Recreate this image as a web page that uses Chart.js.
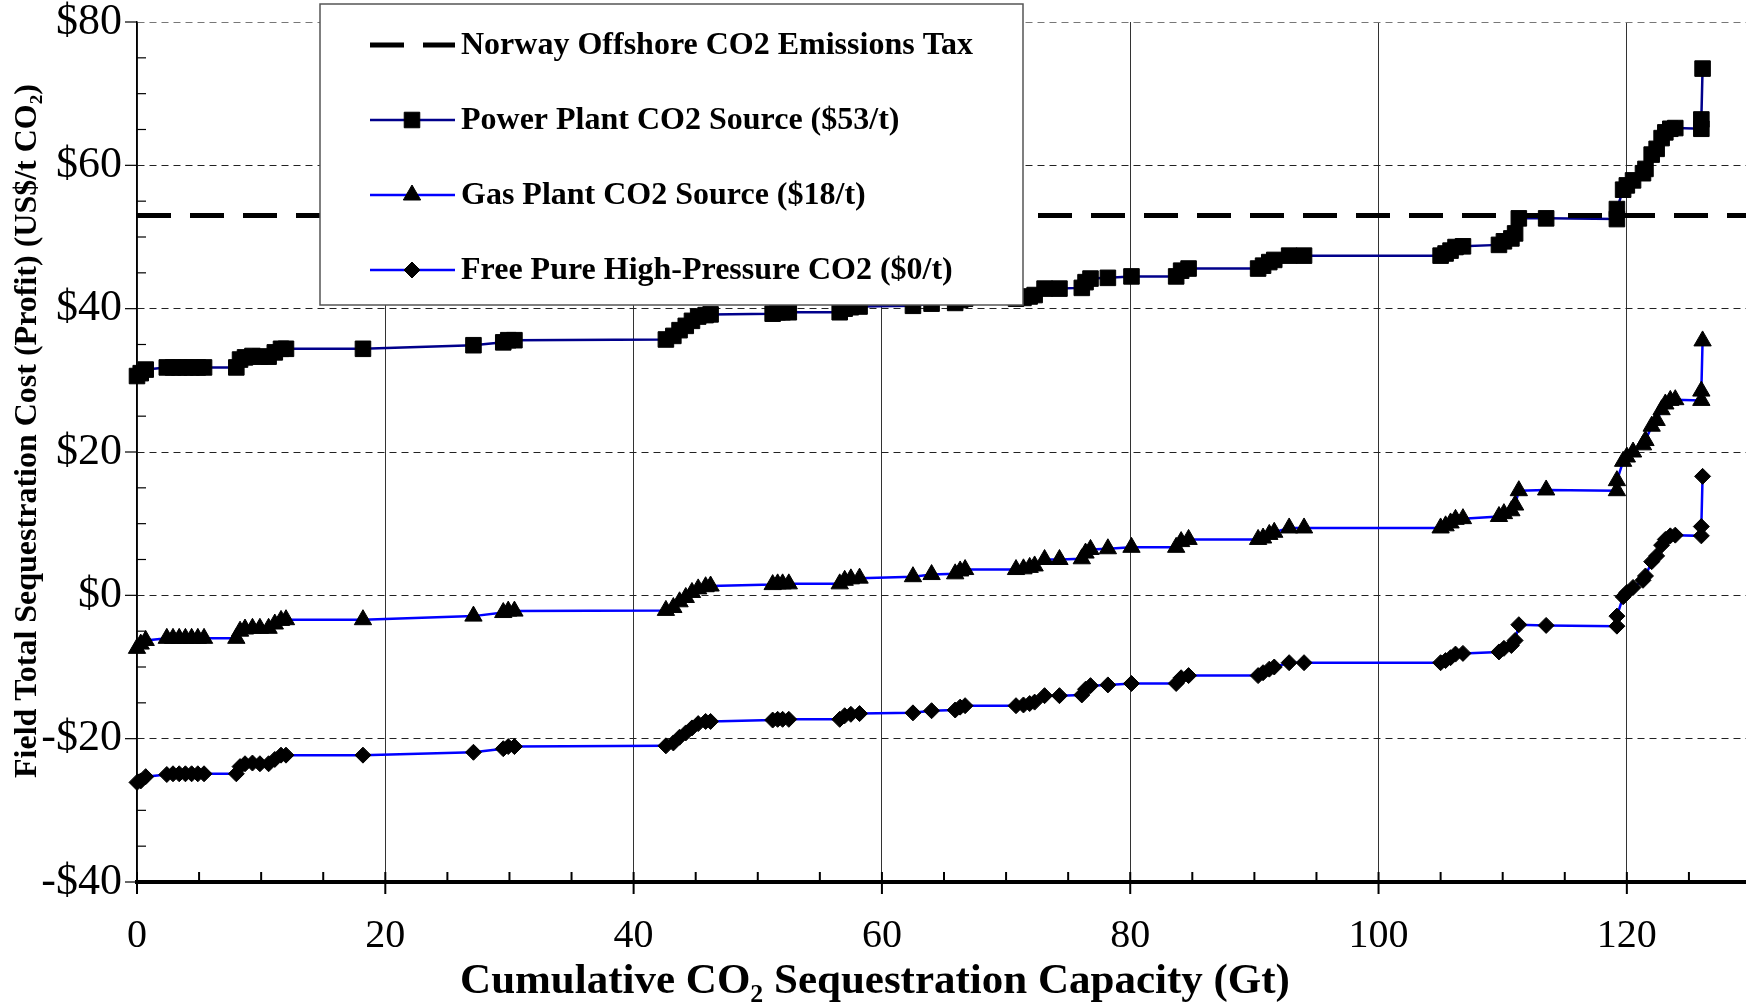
<!DOCTYPE html>
<html lang="en">
<head>
  <meta charset="UTF-8" />
  <title>Field Total Sequestration Cost vs Cumulative CO2 Capacity</title>
  <script src="https://cdn.jsdelivr.net/npm/chart.js"></script>
  <style>
    html, body { margin: 0; padding: 0; background: #fff; overflow: hidden; }
    canvas { display: block; }
  </style>
</head>
<body>
  <canvas id="chart" width="1751" height="1008"></canvas>

  <script>
    // cumulative capacity (Gt) of the fields, in merit order
    const capacity = [0.0, 0.3, 0.7, 2.4, 2.9, 3.4, 3.9, 4.4, 4.9, 5.4, 8.0, 8.3, 8.7, 9.3, 9.9, 10.6, 11.1, 11.6, 12.0, 18.2,
      27.1, 29.5, 29.9, 30.4, 42.6, 43.2, 43.7, 44.2, 44.7, 45.2, 45.8, 46.2, 51.2, 51.6, 52.0, 52.5, 56.6, 57.0, 57.5, 58.2,
      62.5, 64.0, 65.9, 66.3, 66.7, 70.8, 71.4, 71.9, 72.3, 73.1, 74.3, 76.1, 76.4, 76.8, 78.2, 80.1, 83.7, 84.1, 84.7, 90.3,
      90.7, 91.2, 91.6, 92.8, 94.0, 105.0, 105.4, 105.8, 106.2, 106.8, 109.7, 110.1, 110.7, 111.0, 111.3, 113.5, 119.2, 119.2, 119.7, 120.0,
      120.5, 121.3, 121.5, 122.0, 122.4, 122.8, 123.1, 123.5, 123.9, 126.0, 126.0, 126.1];

    // US$/t CO2
    const powerPlant = [30.6, 31.0, 31.5, 31.8, 31.8, 31.8, 31.8, 31.8, 31.8, 31.8, 31.8, 32.9, 33.2, 33.4, 33.3, 33.3, 33.9, 34.4, 34.4, 34.4,
      34.9, 35.3, 35.6, 35.6, 35.7, 36.2, 37.0, 37.6, 38.3, 38.9, 39.1, 39.2, 39.3, 39.5, 39.5, 39.5, 39.5, 40.0, 40.2, 40.3,
      40.4, 40.7, 40.8, 41.2, 41.4, 41.4, 41.5, 41.7, 41.9, 42.8, 42.8, 42.9, 43.7, 44.2, 44.3, 44.5, 44.5, 45.3, 45.6, 45.6,
      46.0, 46.5, 46.8, 47.4, 47.4, 47.4, 47.7, 48.1, 48.6, 48.7, 48.9, 49.4, 49.8, 50.5, 52.6, 52.6, 52.5, 53.9, 56.6, 57.2,
      57.9, 58.9, 59.5, 61.5, 62.3, 63.8, 64.6, 65.1, 65.2, 65.1, 66.4, 73.5];

    const gasPlant = [-7.4, -6.8, -6.3, -6.0, -6.0, -6.0, -6.0, -6.0, -6.0, -6.0, -6.0, -5.0, -4.7, -4.6, -4.6, -4.6, -4.0, -3.5, -3.4, -3.4,
      -2.9, -2.4, -2.2, -2.2, -2.1, -1.7, -0.9, -0.3, 0.4, 0.9, 1.2, 1.3, 1.5, 1.6, 1.6, 1.6, 1.6, 2.1, 2.3, 2.4,
      2.6, 2.9, 3.0, 3.4, 3.6, 3.6, 3.7, 3.9, 4.1, 5.0, 5.0, 5.1, 5.9, 6.4, 6.5, 6.7, 6.7, 7.5, 7.8, 7.8,
      8.0, 8.5, 8.8, 9.4, 9.4, 9.4, 9.7, 10.1, 10.6, 10.7, 11.0, 11.4, 11.8, 12.6, 14.6, 14.7, 14.6, 16.0, 18.7, 19.3,
      20.0, 21.0, 21.6, 23.6, 24.4, 25.9, 26.7, 27.2, 27.3, 27.2, 28.5, 35.5];

    const freeCO2 = [-26.1, -25.9, -25.3, -25.0, -24.9, -24.9, -24.9, -24.9, -24.9, -24.9, -24.9, -23.9, -23.5, -23.4, -23.5, -23.5, -22.9, -22.3, -22.3, -22.3,
      -21.9, -21.4, -21.1, -21.1, -21.0, -20.6, -19.8, -19.2, -18.5, -17.9, -17.6, -17.6, -17.4, -17.3, -17.3, -17.3, -17.3, -16.8, -16.6, -16.5,
      -16.4, -16.1, -16.0, -15.6, -15.4, -15.4, -15.3, -15.1, -14.9, -14.0, -14.0, -13.9, -13.1, -12.6, -12.5, -12.3, -12.3, -11.5, -11.2, -11.2,
      -10.8, -10.3, -10.0, -9.4, -9.4, -9.4, -9.1, -8.7, -8.2, -8.1, -7.9, -7.4, -7.0, -6.3, -4.1, -4.2, -4.3, -2.9, -0.2, 0.4,
      1.1, 2.1, 2.7, 4.7, 5.5, 7.0, 7.8, 8.3, 8.4, 8.3, 9.6, 16.6];

    const taxLevel = 53;
    const xRange = [0, 130];
    const yRange = [-40, 80];

    const seriesLabels = [
      'Norway Offshore CO2 Emissions Tax',
      'Power Plant CO2 Source ($53/t)',
      'Gas Plant CO2 Source ($18/t)',
      'Free Pure High-Pressure CO2 ($0/t)'
    ];
    const xTitle = 'Cumulative CO\u2082 Sequestration Capacity (Gt)';
    const yTitle = 'Field Total Sequestration Cost (Profit) (US$/t CO\u2082)';

    const SERIF = '"Liberation Serif", "Times New Roman", serif';
    const pts = arr => capacity.map((x, i) => ({ x, y: arr[i] }));

    // minor ticks, axis titles and the boxed legend
    const decorations = {
      id: 'decorations',
      afterDraw(chart) {
        const { ctx, chartArea: area, scales: { x, y } } = chart;
        ctx.save();
        ctx.strokeStyle = '#000';

        // x ticks: major cross the axis, minor point inward
        ctx.lineWidth = 2;
        for (let v = xRange[0]; v < xRange[1]; v += 5) {
          const px = x.getPixelForValue(v);
          ctx.beginPath();
          ctx.moveTo(px, area.bottom - 10);
          ctx.lineTo(px, area.bottom + (v % 20 === 0 ? 12 : 0));
          ctx.stroke();
        }
        // y ticks: major outward, minor inward
        ctx.lineWidth = 1.2;
        for (let v = yRange[0]; v <= yRange[1]; v += 5) {
          const py = y.getPixelForValue(v);
          ctx.beginPath();
          if (v % 20 === 0) { ctx.moveTo(area.left - 12, py); ctx.lineTo(area.left, py); }
          else { ctx.moveTo(area.left, py); ctx.lineTo(area.left + 9, py); }
          ctx.stroke();
        }

        // axis titles
        ctx.fillStyle = '#000';
        ctx.textAlign = 'center';
        ctx.textBaseline = 'middle';
        ctx.font = 'bold 43px ' + SERIF;
        ctx.fillText(xTitle, 875, 982);
        ctx.save();
        ctx.translate(28, 431);
        ctx.rotate(-Math.PI / 2);
        ctx.font = 'bold 32px ' + SERIF;
        ctx.fillText(yTitle, 0, 0);
        ctx.restore();

        // legend box
        const box = { left: 320, top: 4, width: 703, height: 301 };
        ctx.fillStyle = '#fff';
        ctx.fillRect(box.left, box.top, box.width, box.height);
        ctx.strokeStyle = '#555';
        ctx.lineWidth = 1.5;
        ctx.strokeRect(box.left, box.top, box.width, box.height);

        chart.data.datasets.forEach((ds, i) => {
          const ly = 45 + i * 75;
          ctx.strokeStyle = ds.borderColor;
          ctx.lineWidth = ds.borderWidth;
          ctx.setLineDash(ds.borderDash || []);
          ctx.beginPath();
          ctx.moveTo(370, ly);
          ctx.lineTo(455, ly);
          ctx.stroke();
          ctx.setLineDash([]);
          if (ds.pointRadius > 0) {
            ctx.fillStyle = '#000';
            ctx.strokeStyle = '#000';
            ctx.lineWidth = 1;
            Chart.helpers.drawPoint(ctx, { pointStyle: ds.pointStyle, radius: ds.pointRadius, borderWidth: 1, rotation: 0 }, 412, ly);
          }
          ctx.fillStyle = '#000';
          ctx.textAlign = 'left';
          ctx.textBaseline = 'middle';
          ctx.font = 'bold 32px ' + SERIF;
          ctx.fillText(ds.label, 461, ly + 1);
        });
        ctx.restore();
      }
    };

    const markerStyle = (style, r) => ({
      pointStyle: style,
      pointRadius: r,
      pointBackgroundColor: '#000',
      pointBorderColor: '#000',
      pointBorderWidth: 1,
      clip: false
    });

    new Chart(document.getElementById('chart'), {
      type: 'line',
      data: {
        datasets: [
          {
            label: seriesLabels[0],
            data: [{ x: xRange[0], y: taxLevel }, { x: xRange[1], y: taxLevel }],
            borderColor: '#000',
            borderWidth: 5,
            borderDash: [34, 19],
            pointRadius: 0,
            clip: false
          },
          {
            label: seriesLabels[1],
            data: pts(powerPlant),
            borderColor: '#00008b',
            borderWidth: 2.5,
            ...markerStyle('rect', 11)
          },
          {
            label: seriesLabels[2],
            data: pts(gasPlant),
            borderColor: '#0000ff',
            borderWidth: 2.5,
            ...markerStyle('triangle', 10)
          },
          {
            label: seriesLabels[3],
            data: pts(freeCO2),
            borderColor: '#0000ff',
            borderWidth: 2.5,
            ...markerStyle('rectRot', 8)
          }
        ]
      },
      options: {
        responsive: false,
        animation: false,
        events: [],
        layout: { autoPadding: false, padding: { top: 22, left: 0, right: 0, bottom: 0 } },
        plugins: { legend: { display: false }, tooltip: { enabled: false } },
        scales: {
          x: {
            type: 'linear',
            min: xRange[0],
            max: xRange[1],
            ticks: {
              stepSize: 20,
              includeBounds: false,
              padding: 30,
              color: '#000',
              font: { family: SERIF, size: 40 }
            },
            grid: { color: '#333', lineWidth: 1, drawTicks: false },
            border: { display: true, color: '#000', width: 4 },
            afterFit: s => { s.height = 126; s.paddingLeft = 0; s.paddingRight = 0; }
          },
          y: {
            min: yRange[0],
            max: yRange[1],
            ticks: {
              stepSize: 20,
              padding: 15,
              color: '#000',
              font: { family: SERIF, size: 44 },
              callback: v => (v < 0 ? '-$' + (-v) : '$' + v)
            },
            grid: {
              color: c => (c.tick && c.tick.value === 80 ? '#777' : '#222'),
              lineWidth: 1,
              drawTicks: false
            },
            border: { display: true, color: '#000', width: 1.5, dash: [7, 5] },
            afterFit: s => { s.width = 137; s.paddingTop = 0; s.paddingBottom = 0; }
          }
        }
      },
      plugins: [decorations]
    });
  </script>
</body>
</html>
